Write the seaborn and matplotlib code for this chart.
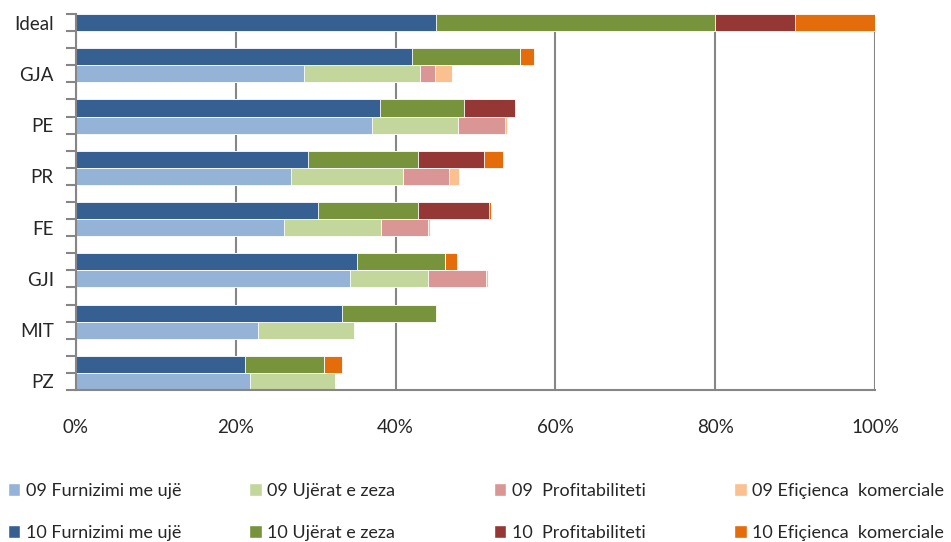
import matplotlib
matplotlib.use("Agg")

import numpy as np
import pandas as pd
import matplotlib.pyplot as plt
from matplotlib.patches import Patch
import seaborn as sns

# =========================
# DONNÉES
# =========================
utilities = ["GJA", "PE", "PR", "FE", "GJI", "MIT", "PZ"]

ideal = [45.0, 35.0, 10.0, 10.0]

furn_09 = [28.5, 37.1, 26.9, 26.0, 34.3, 22.8, 21.8]
ujera_09 = [14.5, 10.7, 14.0, 12.2, 9.8, 11.95, 10.65]
prof_09 = [1.9, 5.9, 5.8, 5.85, 7.25, 0.0, 0.0]
efic_09 = [2.2, 0.2, 1.2, 0.25, 0.25, 0.0, 0.15]

furn_10 = [42.0, 38.0, 29.0, 30.3, 35.2, 33.3, 21.15]
ujera_10 = [13.6, 10.6, 13.85, 12.55, 11.0, 11.7, 9.85]
prof_10 = [0.0, 6.4, 8.25, 8.85, 0.0, 0.0, 0.0]
efic_10 = [1.7, 0.0, 2.4, 0.3, 1.5, 0.0, 2.3]

labels_09 = ["09 Furnizimi me ujë", "09 Ujërat e zeza", "09  Profitabiliteti", "09 Efiçienca  komerciale"]
labels_10 = ["10 Furnizimi me ujë", "10 Ujërat e zeza", "10  Profitabiliteti", "10 Efiçienca  komerciale"]
colors_09 = ["#95B3D7", "#C3D69B", "#D99694", "#FAC090"]
colors_10 = ["#376092", "#77933C", "#953735", "#E46C0A"]

x_ticks = [0, 20, 40, 60, 80, 100]

# =========================
# TABLE (une ligne par barre)
# =========================
order = ["Ideal"]
for u in utilities:
    order += [f"_{u}", f"{u} 10", f"{u} 09"]

rows = [{"row": "Ideal", "year": "10", "seg": ideal}]
for i, u in enumerate(utilities):
    rows.append({"row": f"{u} 10", "year": "10",
                 "seg": [furn_10[i], ujera_10[i], prof_10[i], efic_10[i]]})
    rows.append({"row": f"{u} 09", "year": "09",
                 "seg": [furn_09[i], ujera_09[i], prof_09[i], efic_09[i]]})

df = pd.DataFrame([{"row": r["row"], "year": r["year"],
                    **{f"c{k}": v for k, v in enumerate(np.cumsum(r["seg"]))}}
                   for r in rows])

# =========================
# FIGURE
# =========================
sns.set_style("white")
plt.rcParams["font.family"] = ["Lato", "DejaVu Sans"]

fig = plt.figure(figsize=(9.51, 5.42), dpi=100)
ax = fig.add_axes([0.0799, 0.2804, 0.8402, 0.6938])

# couches cumulées, de la plus longue à la plus courte
for k in [3, 2, 1, 0]:
    for year, cols in [("10", colors_10), ("09", colors_09)]:
        sub = df[df["year"] == year]
        sns.barplot(data=sub, x=f"c{k}", y="row", order=order, orient="h",
                    color=cols[k], saturation=1, width=1.0, errorbar=None,
                    edgecolor="white", linewidth=0.6, ax=ax)

ax.set_xlim(0, 100)
ax.set_ylim(len(order) - 0.5, -0.5)
ax.set_xlabel("")
ax.set_ylabel("")

grid_c = "#868686"
ax.set_xticks(x_ticks)
ax.set_xticklabels([f"{t}%" for t in x_ticks], fontsize=13.5)
ax.tick_params(axis="x", length=0, pad=21)
ax.grid(axis="x", color=grid_c, linewidth=1.5)
ax.grid(axis="y", visible=False)
ax.set_axisbelow(True)

# ticks aux limites des lignes, étiquettes au centre
ax.set_yticks(np.arange(-0.5, len(order), 1.0))
ax.set_yticklabels([])
ax.tick_params(axis="y", which="major", length=7, width=1.5, color=grid_c, direction="out", left=True)
lab_pos = [i for i, r in enumerate(order) if r == "Ideal" or r.endswith(" 09")]
lab_txt = ["Ideal" if order[i] == "Ideal" else order[i][:-3] for i in lab_pos]
ax.set_yticks(lab_pos, minor=True)
ax.set_yticklabels(lab_txt, minor=True, fontsize=13.5)
ax.tick_params(axis="y", which="minor", length=0, pad=16, left=True)

for s in ["top", "right"]:
    ax.spines[s].set_visible(False)
for s in ["left", "bottom"]:
    ax.spines[s].set_color(grid_c)
    ax.spines[s].set_linewidth(1.5)

# =========================
# LÉGENDE (4 colonnes)
# =========================
leg_x = [0.008, 0.262, 0.519, 0.772]
for j in range(4):
    handles = [Patch(facecolor=colors_09[j], label=labels_09[j]),
               Patch(facecolor=colors_10[j], label=labels_10[j])]
    fig.legend(handles=handles, loc="upper left", bbox_to_anchor=(leg_x[j], 0.109),
               frameon=False, fontsize=13, handlelength=0.7, handleheight=0.7,
               handletextpad=0.3, labelspacing=1.45, borderaxespad=0, borderpad=0)

fig.savefig("out.png", dpi=100)
